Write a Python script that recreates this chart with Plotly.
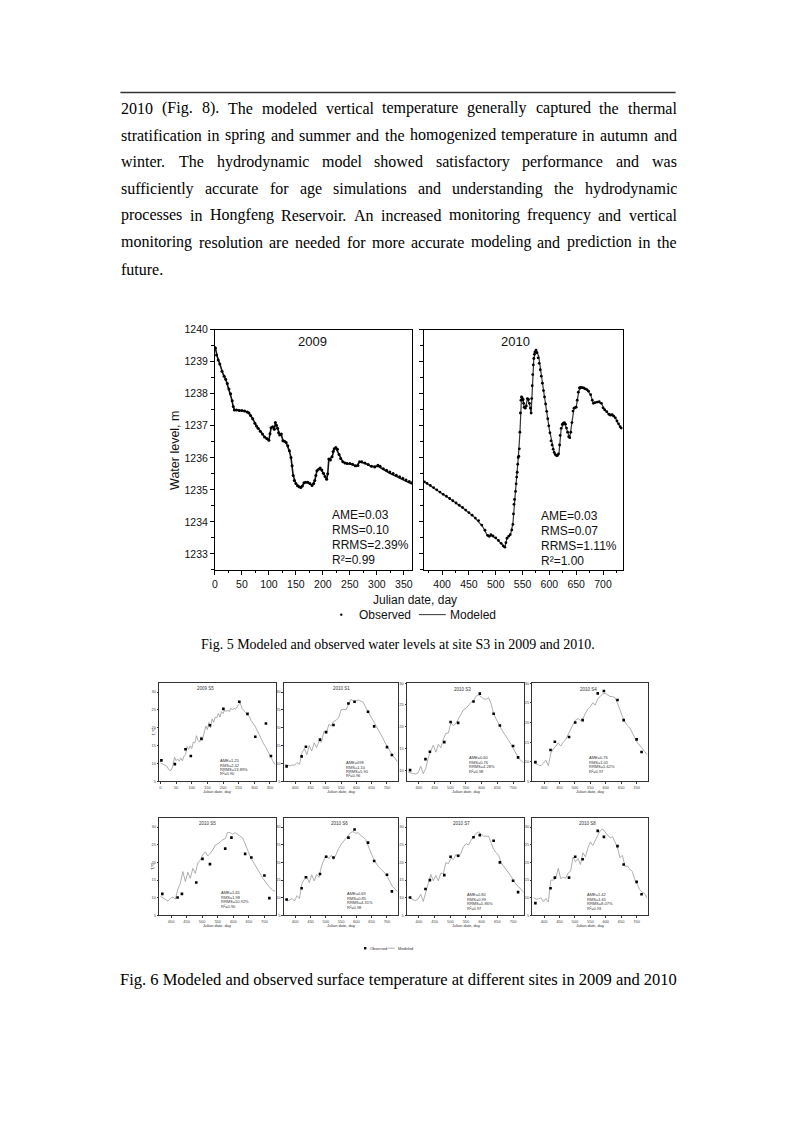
import plotly.graph_objects as go

W, H = 793, 1122
def px(x): return x / W
def py(y): return 1 - y / H

SANS = "Liberation Sans, Arial, sans-serif"
SERIF = "Liberation Serif, Times New Roman, serif"

# ---------------- Text ----------------
PARA_LINES = [
    "2010 (Fig. 8). The modeled vertical temperature generally captured the thermal",
    "stratification in spring and summer and the homogenized temperature in autumn and",
    "winter. The hydrodynamic model showed satisfactory performance and was",
    "sufficiently accurate for age simulations and understanding the hydrodynamic",
    "processes in Hongfeng Reservoir. An increased monitoring frequency and vertical",
    "monitoring resolution are needed for more accurate modeling and prediction in the",
    "future.",
]
CAPTION5 = "Fig. 5 Modeled and observed water levels at site S3 in 2009 and 2010."
CAPTION6 = "Fig. 6 Modeled and observed surface temperature at different sites in 2009 and 2010"

# ---------------- Fig. 5 data: water level ----------------
WL2009_OBS_DAY = [1, 3, 6, 9, 13, 17, 20, 23, 26, 29, 32, 34, 36, 40, 45, 50, 55, 60, 63, 66,
                  70, 74, 77, 80, 84, 88, 92, 96, 100, 102, 104, 107, 110, 112, 114, 116, 118, 120,
                  123, 126, 129, 132, 135, 138, 141, 143, 145, 147, 150, 153, 156, 159, 162, 165,
                  168, 172, 176, 180, 183, 185, 187, 189, 192, 195, 198, 201, 204, 207, 209, 211,
                  214, 217, 219, 221, 224, 227, 230, 233, 237, 241, 245, 250, 255, 260, 265, 268,
                  272, 278, 284, 290, 296, 302, 306, 312, 318, 324, 330, 336, 342, 348, 354, 360, 365]
WL2009_OBS = [1239.43, 1239.21, 1239.05, 1238.93, 1238.70, 1238.55, 1238.45, 1238.32, 1238.15, 1238.00,
              1237.78, 1237.60, 1237.49, 1237.49, 1237.48, 1237.48, 1237.46, 1237.43, 1237.40, 1237.32,
              1237.22, 1237.08, 1236.99, 1236.92, 1236.83, 1236.74, 1236.65, 1236.60, 1236.55, 1236.75,
              1236.94, 1236.97, 1236.89, 1237.10, 1237.02, 1236.92, 1236.78, 1236.71, 1236.74, 1236.53,
              1236.52, 1236.48, 1236.38, 1236.22, 1236.01, 1235.75, 1235.45, 1235.29, 1235.20, 1235.13,
              1235.10, 1235.07, 1235.12, 1235.22, 1235.24, 1235.24, 1235.20, 1235.14, 1235.20, 1235.29,
              1235.45, 1235.60, 1235.64, 1235.68, 1235.62, 1235.52, 1235.42, 1235.33, 1235.50, 1235.96,
              1235.93, 1236.03, 1236.20, 1236.28, 1236.32, 1236.27, 1236.10, 1235.98, 1235.88, 1235.84,
              1235.82, 1235.82, 1235.80, 1235.75, 1235.76, 1235.88, 1235.88, 1235.84, 1235.79, 1235.74,
              1235.71, 1235.77, 1235.74, 1235.66, 1235.61, 1235.56, 1235.51, 1235.46, 1235.41, 1235.36,
              1235.31, 1235.26, 1235.22]
WL2009_MOD_DAY = [0, 5, 10, 15, 20, 25, 30, 34, 36, 45, 55, 63, 70, 77, 84, 92, 100, 104, 107, 110,
                  112, 116, 120, 123, 126, 132, 138, 141, 145, 150, 156, 160, 166, 172, 180, 185, 189,
                  195, 201, 207, 209, 211, 217, 221, 224, 230, 237, 245, 255, 262, 268, 278, 290, 302,
                  312, 324, 336, 348, 360, 365]
WL2009_MOD = [1239.48, 1239.12, 1238.88, 1238.62, 1238.45, 1238.20, 1237.90, 1237.60, 1237.50, 1237.48,
              1237.46, 1237.40, 1237.22, 1236.99, 1236.83, 1236.65, 1236.55, 1236.93, 1236.96, 1236.90,
              1237.08, 1236.93, 1236.72, 1236.73, 1236.54, 1236.47, 1236.21, 1236.00, 1235.45, 1235.20,
              1235.10, 1235.08, 1235.23, 1235.23, 1235.14, 1235.28, 1235.60, 1235.67, 1235.52, 1235.33,
              1235.50, 1235.95, 1236.02, 1236.28, 1236.31, 1236.10, 1235.87, 1235.82, 1235.79, 1235.74,
              1235.87, 1235.83, 1235.73, 1235.74, 1235.63, 1235.52, 1235.42, 1235.32, 1235.22, 1235.18]

WL2010_OBS_DAY = [367, 372, 378, 384, 390, 396, 402, 408, 414, 420, 426, 432, 438, 444, 450, 456, 462,
                  468, 474, 480, 485, 488, 491, 495, 500, 505, 510, 514, 517, 519, 521, 524, 527, 530,
                  532, 533, 534, 535, 537, 538, 539, 540, 541, 542, 543, 544, 545, 546, 547, 548, 549,
                  550, 551, 552, 553, 555, 557, 559, 561, 563, 565, 566, 567, 568, 569, 570, 571, 572,
                  573, 575, 577, 579, 581, 583, 585, 587, 589, 591, 593, 595, 597, 599, 601, 603, 605,
                  607, 609, 611, 613, 615, 617, 619, 620, 622, 624, 626, 628, 630, 632, 634, 636, 638,
                  640, 642, 644, 646, 648, 650, 652, 654, 656, 658, 661, 664, 667, 670, 673, 677, 680,
                  682, 685, 689, 693, 697, 700, 703, 707, 711, 714, 717, 720, 723, 726, 729, 732, 734]
WL2010_OBS = [1235.25, 1235.20, 1235.14, 1235.07, 1235.00, 1234.93, 1234.86, 1234.80, 1234.73, 1234.66,
              1234.59, 1234.52, 1234.45, 1234.37, 1234.29, 1234.21, 1234.12, 1234.04, 1233.90, 1233.74,
              1233.58, 1233.55, 1233.60, 1233.56, 1233.50, 1233.42, 1233.33, 1233.25, 1233.21, 1233.35,
              1233.49, 1233.55, 1233.60, 1233.75, 1233.92, 1234.25, 1234.55, 1234.70, 1234.95, 1235.19,
              1235.40, 1235.55, 1235.80, 1236.01, 1236.05, 1236.28, 1236.80, 1237.40, 1237.80, 1237.90,
              1237.88, 1237.80, 1237.82, 1237.70, 1237.58, 1237.55, 1237.62, 1237.85, 1237.82, 1237.70,
              1237.55, 1237.40, 1237.85, 1238.25, 1238.60, 1238.90, 1239.10, 1239.23, 1239.30, 1239.36,
              1239.28, 1239.12, 1238.95, 1238.75, 1238.55, 1238.33, 1238.10, 1237.90, 1237.68, 1237.45,
              1237.22, 1237.00, 1236.78, 1236.53, 1236.40, 1236.27, 1236.17, 1236.10, 1236.07, 1236.07,
              1236.12, 1236.40, 1236.70, 1236.92, 1237.04, 1237.08, 1237.10, 1237.05, 1236.93, 1236.80,
              1236.66, 1236.63, 1236.80, 1237.10, 1237.46, 1237.55, 1237.57, 1237.58, 1237.80, 1238.05,
              1238.18, 1238.20, 1238.19, 1238.18, 1238.15, 1238.13, 1238.08, 1237.97, 1237.80, 1237.70,
              1237.72, 1237.74, 1237.75, 1237.70, 1237.56, 1237.50, 1237.44, 1237.36, 1237.33, 1237.35,
              1237.30, 1237.25, 1237.15, 1237.06, 1236.97, 1236.93]
WL2010_MOD_DAY = [366, 380, 400, 420, 440, 460, 475, 485, 490, 500, 510, 517, 521, 528, 532, 535, 538,
                  542, 545, 548, 551, 553, 556, 559, 563, 566, 568, 571, 575, 580, 590, 600, 609, 614,
                  618, 622, 628, 634, 638, 642, 646, 650, 655, 660, 670, 677, 682, 690, 697, 703, 710,
                  717, 723, 729, 734]
WL2010_MOD = [1235.26, 1235.11, 1234.88, 1234.66, 1234.42, 1234.15, 1233.87, 1233.56, 1233.58, 1233.50,
              1233.33, 1233.20, 1233.50, 1233.63, 1233.95, 1234.70, 1235.20, 1236.00, 1236.75, 1237.88,
              1237.80, 1237.60, 1237.58, 1237.85, 1237.68, 1237.38, 1238.25, 1239.10, 1239.36, 1239.18,
              1238.00, 1236.88, 1236.17, 1236.07, 1236.15, 1236.92, 1237.10, 1236.80, 1236.62, 1237.10,
              1237.55, 1237.58, 1238.10, 1238.20, 1238.13, 1237.96, 1237.70, 1237.74, 1237.70, 1237.50,
              1237.38, 1237.34, 1237.25, 1237.05, 1236.92]

WL_YEARS = ["2009", "2010"]
WL_STATS = [["AME=0.03", "RMS=0.10", "RRMS=2.39%", "R\u00b2=0.99"],
            ["AME=0.03", "RMS=0.07", "RRMS=1.11%", "R\u00b2=1.00"]]
WL_YTICKS = [1233, 1234, 1235, 1236, 1237, 1238, 1239, 1240]
WL_XTICKS_2009 = [0, 50, 100, 150, 200, 250, 300, 350]
WL_XTICKS_2010 = [400, 450, 500, 550, 600, 650, 700]
LEGEND_NAMES = ["Observed", "Modeled"]

# ---------------- Fig. 6 data: surface temperature ----------------
T_TITLES = ["2009 S5", "2010 S1", "2010 S3", "2010 S4", "2010 S5", "2010 S6", "2010 S7", "2010 S8"]
T_STATS = [
    ["AME=1.25", "RMS=2.42", "RRMS=13.89%", "R\u00b2=0.90"],
    ["AME=098", "RMS=1.10", "RRMS=5.90", "R\u00b2=0.96"],
    ["AME=0.60", "RMS=0.76", "RRMS=4.28%", "R\u00b2=0.98"],
    ["AME=0.76", "RMS=1.05", "RRMS=5.62%", "R\u00b2=0.97"],
    ["AME=1.65", "RMS=1.98", "RRMS=10.92%", "R\u00b2=0.90"],
    ["AME=0.69", "RMS=0.85", "RRMS=4.31%", "R\u00b2=0.98"],
    ["AME=0.80", "RMS=0.99", "RRMS=5.86%", "R\u00b2=0.97"],
    ["AME=1.42", "RMS=1.65", "RRMS=8.07%", "R\u00b2=0.93"],
]
T_OBS_DAY_2009 = [3, 46, 80, 97, 131, 158, 201, 252, 278, 303, 337, 353]
T_OBS_DAY_2010 = [372, 421, 435, 481, 501, 525, 574, 594, 638, 658, 700, 716]
T_OBS = [
    [10.9, 9.85, 14.0, 12.1, 16.9, 20.7, 25.3, 27.3, 23.9, 17.5, 21.2, 12.1],
    [9.2, 12.0, 14.7, 16.7, 18.8, 20.8, 26.8, 27.3, 24.5, 20.4, 14.6, 12.4],
    [10.1, 12.6, 14.3, 16.5, 21.1, 20.9, 25.8, 27.6, 23.0, 20.3, 15.6, 13.0],
    [9.9, 13.0, 15.1, 16.3, 20.0, 20.6, 27.4, 28.0, 25.7, 20.6, 15.7, 12.5],
    [11.1, 10.1, 11.1, 14.3, 21.0, 19.5, 23.9, 27.0, 22.4, 21.4, 16.3, 9.9],
    [9.5, 12.7, 15.8, 16.7, 21.6, 21.4, 27.0, 29.3, 25.6, 20.4, 16.5, 11.8],
    [10.1, 12.5, 15.0, 16.4, 21.6, 21.9, 27.1, 27.7, 26.1, 20.0, 14.8, 11.6],
    [8.5, 12.7, 15.7, 15.7, 21.6, 20.9, 28.9, 27.2, 24.6, 19.4, 14.5, 11.0],
]
T_MOD_DAY_2009 = [0, 5, 10, 15, 20, 25, 30, 35, 40, 45, 50, 55, 60, 65, 70, 75, 80, 85, 90, 95,
                  100, 105, 110, 115, 120, 125, 130, 135, 140, 145, 150, 155, 160, 165, 170, 175,
                  180, 185, 190, 195, 200, 205, 210, 215, 220, 225, 230, 235, 240, 245, 250, 255,
                  260, 265, 270, 275, 280, 285, 290, 295, 300, 305, 310, 315, 320, 325, 330, 335,
                  340, 345, 350, 355, 360, 365]
T_MOD_2009 = [10.2, 10.0, 9.8, 9.6, 9.3, 8.6, 8.0, 8.2, 9.5, 11.8, 10.8, 11.3, 10.6, 11.5, 10.8,
              12.0, 12.5, 14.8, 14.0, 15.0, 14.2, 16.0, 15.8, 17.8, 16.5, 16.0, 17.5, 17.0, 19.0,
              20.5, 19.5, 21.5, 20.0, 22.5, 21.5, 23.0, 22.8, 24.0, 23.0, 24.5, 24.0, 25.0, 24.5,
              25.0, 24.5, 25.5, 25.0, 25.5, 25.2, 26.0, 26.5, 27.0, 25.5, 25.0, 24.5, 24.0, 23.5,
              23.0, 22.0, 21.5, 20.8, 20.0, 19.0, 18.0, 17.2, 16.5, 15.5, 14.8, 14.0, 13.2, 12.5,
              11.5, 10.5, 9.8]
T_MOD_DAY_2010 = [366, 374, 382, 390, 398, 406, 414, 422, 430, 438, 446, 454, 462, 470, 478, 486,
                  494, 502, 510, 518, 526, 534, 542, 550, 558, 566, 574, 582, 590, 598, 606, 614,
                  622, 630, 638, 646, 654, 662, 670, 678, 686, 694, 702, 710, 718, 726, 734]
T_MOD_2010 = [
    [9.8, 9.5, 9.4, 9.6, 9.5, 10.3, 9.8, 13.0, 14.2, 12.5, 15.0, 13.5, 15.8, 14.5, 16.3, 16.0,
     19.0, 18.5, 21.0, 20.5, 21.8, 22.2, 22.8, 25.0, 25.2, 25.0, 26.5, 28.0, 27.5, 27.5, 27.8,
     27.6, 27.2, 25.8, 24.6, 23.5, 22.2, 20.8, 19.8, 18.8, 17.2, 15.8, 14.5, 13.4, 12.3, 11.5, 10.5],
    [9.6, 9.4, 9.3, 9.2, 9.5, 11.0, 9.3, 10.5, 13.0, 14.5, 15.8, 14.2, 16.0, 15.2, 17.2, 18.5,
     18.6, 20.9, 20.3, 20.8, 21.8, 22.8, 23.9, 24.2, 25.0, 25.6, 26.0, 27.0, 27.3, 26.8, 26.4,
     26.3, 26.7, 25.3, 23.0, 21.8, 20.6, 19.6, 18.6, 17.8, 16.9, 15.9, 14.8, 13.8, 12.8, 12.2, 11.8],
    [9.8, 9.4, 9.2, 9.0, 9.6, 10.4, 9.0, 12.2, 13.2, 14.0, 14.8, 14.0, 15.0, 15.6, 17.0, 18.4,
     19.5, 20.6, 21.0, 20.5, 21.0, 22.3, 23.4, 24.0, 25.0, 24.4, 26.0, 26.6, 27.3, 27.4, 26.9,
     26.6, 26.6, 26.3, 24.9, 23.0, 21.5, 20.2, 19.2, 18.6, 17.5, 16.1, 14.9, 14.0, 13.4, 12.6, 11.8],
    [10.4, 10.0, 9.6, 9.1, 9.8, 10.2, 9.6, 12.5, 14.1, 17.4, 14.6, 17.2, 15.5, 18.3, 16.9, 19.8,
     20.7, 22.1, 23.0, 21.8, 22.6, 23.5, 24.9, 25.2, 25.8, 26.4, 26.7, 28.5, 28.4, 28.0, 28.4,
     27.9, 27.5, 26.9, 25.3, 23.3, 21.7, 20.4, 19.3, 18.3, 16.9, 15.6, 14.6, 13.6, 12.8, 12.2, 11.8],
    [9.6, 9.1, 9.4, 9.8, 9.1, 10.6, 9.8, 14.1, 15.2, 16.0, 14.3, 16.5, 14.8, 16.6, 15.8, 19.0,
     20.7, 22.0, 21.1, 22.0, 20.8, 22.5, 23.9, 25.1, 26.0, 27.0, 27.8, 28.5, 28.7, 28.2, 28.4,
     27.6, 27.2, 26.5, 24.8, 23.0, 21.4, 20.1, 19.0, 18.3, 17.6, 16.9, 15.8, 14.3, 13.2, 12.5, 11.7],
    [10.1, 9.9, 9.4, 9.2, 9.7, 11.0, 9.0, 12.0, 14.1, 16.6, 14.8, 16.3, 14.8, 17.0, 16.8, 20.0,
     19.6, 21.2, 20.8, 22.3, 21.4, 22.6, 24.4, 25.3, 24.9, 26.2, 27.4, 28.2, 28.6, 28.0, 27.4,
     27.4, 27.4, 25.6, 23.7, 22.8, 22.0, 19.9, 18.8, 18.0, 17.0, 16.0, 15.0, 13.7, 13.1, 12.3, 11.5],
    [10.1, 9.6, 9.7, 10.0, 8.9, 9.8, 8.8, 15.0, 15.0, 15.5, 18.3, 15.4, 15.8, 15.5, 17.0, 17.5,
     21.5, 20.2, 21.1, 19.4, 22.7, 21.6, 24.0, 25.8, 24.8, 26.3, 27.8, 29.0, 29.4, 28.6, 27.6,
     26.9, 27.3, 25.8, 24.2, 21.3, 22.0, 18.9, 19.0, 18.1, 17.4, 15.2, 13.6, 12.3, 11.6, 11.2, 9.9],
]
T_YRANGES = [[5, 32.5], [5, 32.5], [7.5, 30], [5, 30], [5, 32.5], [5, 32.5], [5, 32.5], [5, 32.5]]
T_YTICKS = [5, 10, 15, 20, 25, 30]
T_XTICKS_2009 = [0, 50, 100, 150, 200, 250, 300, 350]
T_XTICKS_2010 = [400, 450, 500, 550, 600, 650, 700]

# ---------------- Build figure ----------------
fig = go.Figure()
layout = dict(width=W, height=H, margin=dict(l=0, r=0, t=0, b=0),
              paper_bgcolor="white", plot_bgcolor="white", showlegend=False)
annotations = []
shapes = []

def ann(x, y, text, size, family=SANS, xanchor="center", yanchor="middle", color="#111", angle=0):
    annotations.append(dict(x=px(x), y=py(y), xref="paper", yref="paper", text=text,
                            showarrow=False, xanchor=xanchor, yanchor=yanchor, borderpad=0,
                            textangle=angle, font=dict(family=family, size=size, color=color)))

# --- paragraph (justified with Times metrics) ---
TW = {' ': 250, '(': 333, ')': 333, ',': 250, '.': 250, '%': 833}
for c in "0123456789":
    TW[c] = 500
TW.update(dict(A=722, B=667, C=667, D=722, E=611, F=556, G=722, H=722, I=333, J=389, K=722, L=611,
               M=889, N=722, O=722, P=556, Q=722, R=667, S=556, T=611, U=722, V=722, W=944, X=722,
               Y=722, Z=611, a=444, b=500, c=444, d=500, e=444, f=333, g=500, h=500, i=278, j=278,
               k=500, l=278, m=778, n=500, o=500, p=500, q=500, r=333, s=389, t=278, u=500, v=500,
               w=722, x=500, y=500, z=444))
def tw(s, size):
    return sum(TW.get(c, 500) for c in s) * size / 1000.0

FS = 16
LEFT, RIGHT = 118, 676
for i, line in enumerate(PARA_LINES):
    yc = 103 + 27 * i
    words = line.split()
    if i == len(PARA_LINES) - 1 or len(words) == 1:
        ann(LEFT, yc, line, FS, SERIF, xanchor="left", color="#000")
        continue
    total = sum(tw(w_, FS) for w_ in words)
    gap = (RIGHT - LEFT - total) / (len(words) - 1)
    xcur = LEFT
    for w_ in words:
        ann(xcur, yc, w_, FS, SERIF, xanchor="left", color="#000")
        xcur += tw(w_, FS) + gap

shapes.append(dict(type="line", xref="paper", yref="paper", x0=px(118), x1=px(676),
                   y0=py(87), y1=py(87), line=dict(color="#333", width=1.5)))

# --- Fig. 5 ---
frame = dict(showline=True, mirror=True, linecolor="black", linewidth=1, showgrid=False,
             zeroline=False, ticks="outside", ticklen=4, tickwidth=1, tickcolor="black")
TICKFONT5 = dict(family=SANS, size=10.5, color="#111")
wl_top, wl_bot = 326, 568
layout["xaxis"] = dict(frame, domain=[px(213), px(411)], range=[0, 365], anchor="y",
                       tickvals=WL_XTICKS_2009, tickfont=TICKFONT5,
                       minor=dict(dtick=25, tick0=0, ticks="outside", ticklen=2.5, tickcolor="black"))
layout["yaxis"] = dict(frame, domain=[py(wl_bot), py(wl_top)], range=[1232.5, 1240], anchor="x",
                       tickvals=WL_YTICKS, tickfont=TICKFONT5,
                       minor=dict(dtick=0.5, tick0=1232.5, ticks="outside", ticklen=2.5, tickcolor="black"))
layout["xaxis2"] = dict(frame, domain=[px(423), px(623)], range=[366, 737], anchor="y2",
                        tickvals=WL_XTICKS_2010, tickfont=TICKFONT5,
                        minor=dict(dtick=25, tick0=0, ticks="outside", ticklen=2.5, tickcolor="black"))
layout["yaxis2"] = dict(frame, domain=[py(wl_bot), py(wl_top)], range=[1232.5, 1240], anchor="x2",
                        tickvals=WL_YTICKS, showticklabels=False,
                        minor=dict(dtick=0.5, tick0=1232.5, ticks="outside", ticklen=2.5, tickcolor="black"))

fig.add_trace(go.Scatter(x=WL2009_MOD_DAY, y=WL2009_MOD, mode="lines", name=LEGEND_NAMES[1],
                         line=dict(color="#111", width=1.6), xaxis="x", yaxis="y"))
fig.add_trace(go.Scatter(x=WL2009_OBS_DAY, y=WL2009_OBS, mode="markers", name=LEGEND_NAMES[0],
                         marker=dict(color="black", size=3.0), xaxis="x", yaxis="y"))
fig.add_trace(go.Scatter(x=WL2010_MOD_DAY, y=WL2010_MOD, mode="lines", name=LEGEND_NAMES[1],
                         line=dict(color="#333", width=1.2), xaxis="x2", yaxis="y2"))
fig.add_trace(go.Scatter(x=WL2010_OBS_DAY, y=WL2010_OBS, mode="markers", name=LEGEND_NAMES[0],
                         marker=dict(color="black", size=2.8), xaxis="x2", yaxis="y2"))

ann(311, 338, WL_YEARS[0], 13)
ann(515, 338, WL_YEARS[1], 13)
for k, s in enumerate(WL_STATS[0]):
    ann(330, 513 + 15 * k, s, 12, xanchor="left")
for k, s in enumerate(WL_STATS[1]):
    ann(540, 514 + 15 * k, s, 12, xanchor="left")
ann(173, 448, "Water level, m", 12.5, angle=-90)
ann(414, 598, "Julian date, day", 12)

# legend for Fig. 5 (drawn manually to match spacing)
shapes.append(dict(type="circle", xref="paper", yref="paper", x0=px(338.8), x1=px(341.2),
                   y0=py(614.2), y1=py(611.8), fillcolor="black", line=dict(width=0)))
ann(357, 613, LEGEND_NAMES[0], 12, xanchor="left")
shapes.append(dict(type="line", xref="paper", yref="paper", x0=px(418), x1=px(445),
                   y0=py(613), y1=py(613), line=dict(color="#333", width=1)))
ann(448, 613, LEGEND_NAMES[1], 12, xanchor="left")

ann(397, 643, CAPTION5, 14, SERIF, color="#000")

# --- Fig. 6 ---
COLS = [(157, 274), (282, 397), (406, 524), (532, 648)]
ROWS = [(682, 781), (818, 916)]
TITLE_POS = [(204, 687), (340, 687), (462, 688), (588, 688),
             (206, 823), (338, 823), (461, 823), (587, 823)]
STAT_POS = [(217, 760), (344, 762), (467, 757), (588, 757),
            (218, 893), (345, 894), (465, 895), (586, 895)]
small = dict(showline=True, mirror=True, linecolor="#333", linewidth=0.7, showgrid=False,
             zeroline=False, ticks="outside", ticklen=1.5, tickwidth=0.5, tickcolor="#333",
             tickfont=dict(family=SANS, size=4, color="#444"))
for i in range(8):
    n = i + 3
    c0, c1 = COLS[i % 4]
    r0, r1 = ROWS[i // 4]
    is2009 = (i == 0)
    layout[f"xaxis{n}"] = dict(small, domain=[px(c0), px(c1)], anchor=f"y{n}",
                               range=[-4, 368] if is2009 else [362, 736],
                               tickvals=T_XTICKS_2009 if is2009 else T_XTICKS_2010)
    layout[f"yaxis{n}"] = dict(small, domain=[py(r1), py(r0)], anchor=f"x{n}",
                               range=T_YRANGES[i], tickvals=T_YTICKS)
    if is2009:
        mx, my, ox = T_MOD_DAY_2009, T_MOD_2009, T_OBS_DAY_2009
    else:
        mx, my, ox = T_MOD_DAY_2010, T_MOD_2010[i - 1], T_OBS_DAY_2010
    fig.add_trace(go.Scatter(x=mx, y=my, mode="lines", line=dict(color="#9a9a9a", width=0.8),
                             xaxis=f"x{n}", yaxis=f"y{n}", name=LEGEND_NAMES[1]))
    fig.add_trace(go.Scatter(x=ox, y=T_OBS[i], mode="markers",
                             marker=dict(color="black", size=2.6, symbol="square"),
                             xaxis=f"x{n}", yaxis=f"y{n}", name=LEGEND_NAMES[0]))
    tx, ty = TITLE_POS[i]
    ann(tx, ty, T_TITLES[i], 4.5, color="#333")
    sx, sy = STAT_POS[i]
    for k, s in enumerate(T_STATS[i]):
        ann(sx, sy + 4.5 * k, s, 4, xanchor="left", color="#333")
    ann((c0 + c1) / 2, r1 + 10.5, "Julian date, day", 4, color="#333")
    if i % 4 == 0:
        ann(151, (r0 + r1) / 2, "T,\u2103", 4, color="#333", angle=-90)

# manual small legend for Fig. 6
shapes.append(dict(type="rect", xref="paper", yref="paper", x0=px(362.8), x1=px(365.2),
                   y0=py(950.2), y1=py(947.8), fillcolor="black", line=dict(width=0)))
ann(368, 949, LEGEND_NAMES[0], 4, xanchor="left", color="#333")
shapes.append(dict(type="line", xref="paper", yref="paper", x0=px(387), x1=px(394),
                   y0=py(949), y1=py(949), line=dict(color="#9a9a9a", width=0.8)))
ann(396, 949, LEGEND_NAMES[1], 4, xanchor="left", color="#333")

ann(398, 980, CAPTION6, 16.5, SERIF, color="#000")

layout["annotations"] = annotations
layout["shapes"] = shapes
fig.update_layout(**layout)

fig.write_html("out.html", config={"displayModeBar": False},
               post_script="document.body.style.margin='0';")
